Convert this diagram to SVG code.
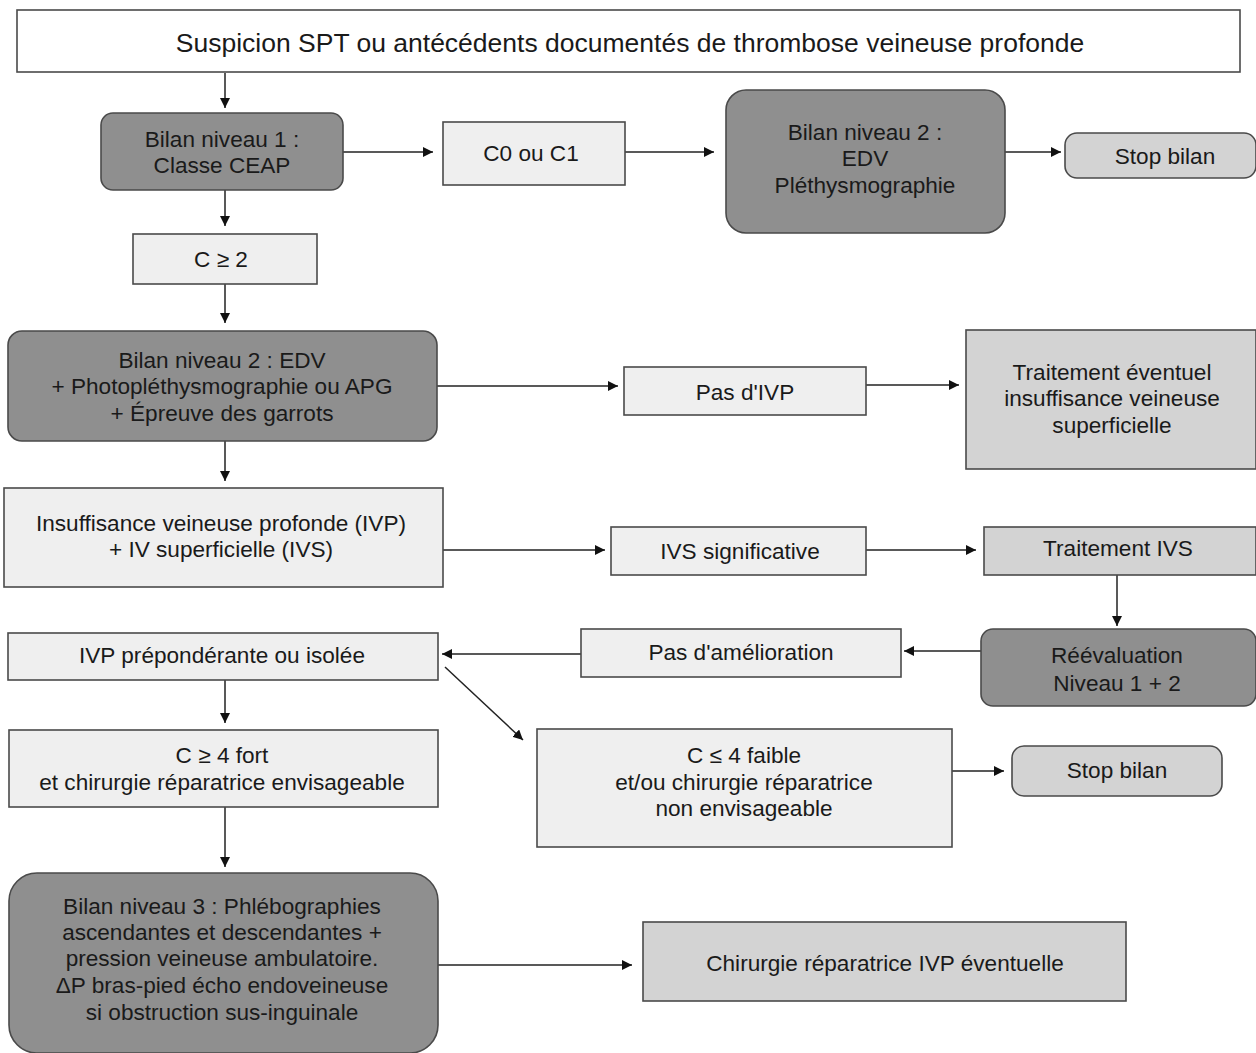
<svg xmlns="http://www.w3.org/2000/svg" width="1256" height="1053" viewBox="0 0 1256 1053">
<style>
.n{stroke:#4a4a4a;stroke-width:1.6}
.w{fill:#ffffff}
.l{fill:#efefef}
.m{fill:#d3d3d3}
.d{fill:#8f8f8f}
text{font-family:"Liberation Sans",Arial,sans-serif;font-size:22.6px;fill:#1a1a1a;text-anchor:middle}
.t{font-size:26.5px}
.c line{stroke:#222;stroke-width:1.5;marker-end:url(#a)}
</style>
<defs>
<marker id="a" viewBox="0 0 10 10" refX="10" refY="5" markerWidth="10" markerHeight="10" markerUnits="userSpaceOnUse" orient="auto">
<path d="M0,0 L10,5 L0,10 Z" fill="#111"/>
</marker>
</defs>
<rect width="1256" height="1053" fill="#fff"/>
<g class="c">
<line x1="225" y1="73" x2="225" y2="108"/>
<line x1="343" y1="152" x2="433" y2="152"/>
<line x1="625" y1="152" x2="714" y2="152"/>
<line x1="1005" y1="152" x2="1061" y2="152"/>
<line x1="225" y1="190" x2="225" y2="226"/>
<line x1="225" y1="284" x2="225" y2="323"/>
<line x1="437" y1="386" x2="618" y2="386"/>
<line x1="866" y1="385" x2="959" y2="385"/>
<line x1="225" y1="441" x2="225" y2="481"/>
<line x1="443" y1="550" x2="605" y2="550"/>
<line x1="866" y1="550" x2="976" y2="550"/>
<line x1="1117" y1="575" x2="1117" y2="626"/>
<line x1="981" y1="651" x2="904" y2="651"/>
<line x1="581" y1="654" x2="442" y2="654"/>
<line x1="445" y1="667" x2="523" y2="740"/>
<line x1="225" y1="680" x2="225" y2="723"/>
<line x1="952" y1="771" x2="1004" y2="771"/>
<line x1="225" y1="807" x2="225" y2="867"/>
<line x1="438" y1="965" x2="632" y2="965"/>
</g>
<g id="n1"><rect class="n w" x="17" y="10" width="1223" height="62"/><text class="t" x="630" y="52">Suspicion SPT ou antécédents documentés de thrombose veineuse profonde</text></g>
<g id="n2"><rect class="n d" x="101" y="113" width="242" height="77" rx="12"/><text x="222" y="147">Bilan niveau 1 :</text><text x="222" y="173">Classe CEAP</text></g>
<g id="n3"><rect class="n l" x="443" y="122" width="182" height="63"/><text x="531" y="161">C0 ou C1</text></g>
<g id="n4"><rect class="n d" x="726" y="90" width="279" height="143" rx="20"/><text x="865" y="140">Bilan niveau 2 :</text><text x="865" y="166">EDV</text><text x="865" y="193">Pléthysmographie</text></g>
<g id="n5"><rect class="n m" x="1065" y="133" width="191" height="45" rx="12"/><text x="1165" y="164">Stop bilan</text></g>
<g id="n6"><rect class="n l" x="133" y="234" width="184" height="50"/><text x="221" y="267">C ≥ 2</text></g>
<g id="n7"><rect class="n d" x="8" y="331" width="429" height="110" rx="14"/><text x="222" y="368">Bilan niveau 2 : EDV</text><text x="222" y="394">+ Photopléthysmographie ou APG</text><text x="222" y="421">+ Épreuve des garrots</text></g>
<g id="n8"><rect class="n l" x="624" y="367" width="242" height="48"/><text x="745" y="400">Pas d'IVP</text></g>
<g id="n9"><rect class="n m" x="966" y="330" width="290" height="139"/><text x="1112" y="380">Traitement éventuel</text><text x="1112" y="406">insuffisance veineuse</text><text x="1112" y="433">superficielle</text></g>
<g id="n10"><rect class="n l" x="4" y="488" width="439" height="99"/><text x="221" y="531">Insuffisance veineuse profonde (IVP)</text><text x="221" y="557">+ IV superficielle (IVS)</text></g>
<g id="n11"><rect class="n l" x="611" y="527" width="255" height="48"/><text x="740" y="559">IVS significative</text></g>
<g id="n12"><rect class="n m" x="984" y="527" width="272" height="48"/><text x="1118" y="556">Traitement IVS</text></g>
<g id="n13"><rect class="n d" x="981" y="629" width="275" height="77" rx="12"/><text x="1117" y="663">Réévaluation</text><text x="1117" y="691">Niveau 1 + 2</text></g>
<g id="n14"><rect class="n l" x="581" y="629" width="320" height="48"/><text x="741" y="660">Pas d'amélioration</text></g>
<g id="n15"><rect class="n l" x="8" y="633" width="430" height="47"/><text x="222" y="663">IVP prépondérante ou isolée</text></g>
<g id="n16"><rect class="n l" x="9" y="730" width="429" height="77"/><text x="222" y="763">C ≥ 4 fort</text><text x="222" y="790">et chirurgie réparatrice envisageable</text></g>
<g id="n17"><rect class="n l" x="537" y="729" width="415" height="118"/><text x="744" y="763">C ≤ 4 faible</text><text x="744" y="790">et/ou chirurgie réparatrice</text><text x="744" y="816">non envisageable</text></g>
<g id="n18"><rect class="n m" x="1012" y="746" width="210" height="50" rx="12"/><text x="1117" y="778">Stop bilan</text></g>
<g id="n19"><rect class="n d" x="9" y="873" width="429" height="180" rx="28"/><text x="222" y="914">Bilan niveau 3 : Phlébographies</text><text x="222" y="940">ascendantes et descendantes +</text><text x="222" y="966">pression veineuse ambulatoire.</text><text x="222" y="993">ΔP bras-pied écho endoveineuse</text><text x="222" y="1020">si obstruction sus-inguinale</text></g>
<g id="n20"><rect class="n m" x="643" y="922" width="483" height="79"/><text x="885" y="971">Chirurgie réparatrice IVP éventuelle</text></g>
</svg>
